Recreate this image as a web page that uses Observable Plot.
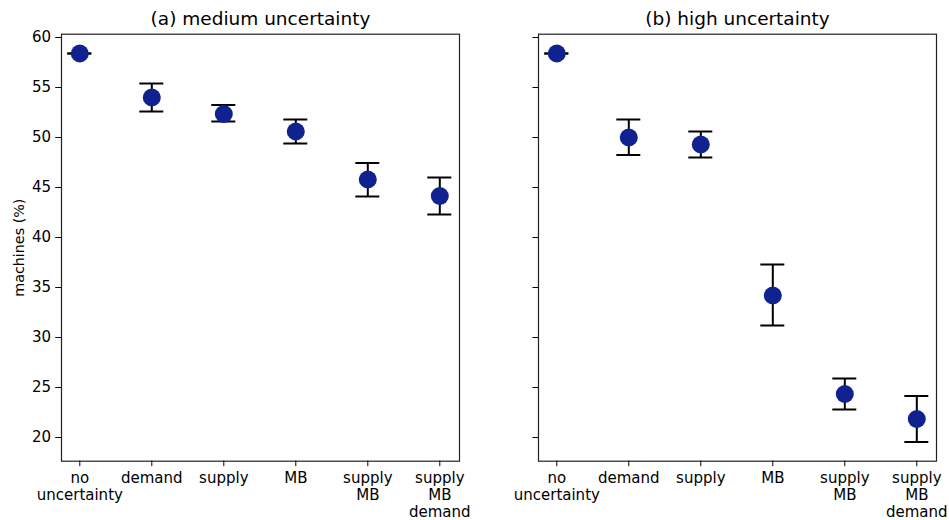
<!DOCTYPE html>
<html>
<head>
<meta charset="utf-8">
<script src="https://cdn.jsdelivr.net/npm/d3@7"></script>
<script src="https://cdn.jsdelivr.net/npm/@observablehq/plot@0.6"></script>
<style>
  html, body { margin: 0; padding: 0; background: white; }
  #chart { width: 949px; height: 520px; }
</style>
</head>
<body>
<div id="chart"></div>
<script>
const categories = ["no\nuncertainty", "demand", "supply", "MB", "supply\nMB", "supply\nMB\ndemand"];
const panels = ["(a) medium uncertainty", "(b) high uncertainty"];
const yTicks = [20, 25, 30, 35, 40, 45, 50, 55, 60];

const mediumMean = [58.4, 54.0, 52.35, 50.6, 45.8, 44.15];
const mediumLow  = [58.4, 52.6, 51.6, 49.4, 44.1, 42.3];
const mediumHigh = [58.4, 55.4, 53.25, 51.8, 47.45, 46.0];

const highMean = [58.4, 50.0, 49.3, 34.2, 24.35, 21.85];
const highLow  = [58.4, 48.25, 48.0, 31.2, 22.8, 19.55];
const highHigh = [58.4, 51.8, 50.6, 37.3, 25.9, 24.15];

const rows = [];
categories.forEach((c, i) => {
  rows.push({panel: panels[0], cat: c, mean: mediumMean[i], lo: mediumLow[i], hi: mediumHigh[i]});
});
categories.forEach((c, i) => {
  rows.push({panel: panels[1], cat: c, mean: highMean[i], lo: highLow[i], hi: highHigh[i]});
});
const titles = panels.map(p => ({panel: p}));

const font = "DejaVu Sans, sans-serif";

const chart = Plot.plot({
  width: 949,
  height: 520,
  marginLeft: 60.7,
  marginRight: 13,
  marginTop: 33.7,
  marginBottom: 59.3,
  style: {fontFamily: font, fontSize: "15px", color: "black", background: "white", overflow: "visible"},
  fx: {domain: panels, paddingInner: 0.1656, paddingOuter: 0, axis: null, label: null},
  x: {type: "band", domain: categories, paddingInner: 0.66, paddingOuter: 0.08, label: null},
  y: {domain: [17.63, 60.33], label: null},
  marks: [
    Plot.frame({stroke: "#222", strokeWidth: 1.2}),
    Plot.axisY({ticks: yTicks, tickSize: 5.5, tickPadding: 5, fontSize: 15, label: null}),
    Plot.axisY({ticks: [], label: "machines (%)", labelAnchor: "center", labelArrow: "none", labelOffset: 48, fontSize: 14.3}),
    Plot.axisY({ticks: yTicks, tickSize: 5.5, tickFormat: () => "", label: null, facetAnchor: null}),
    Plot.axisX({tickSize: 5.5, tickPadding: 4, fontSize: 15, lineHeight: 1.13, label: null}),
    Plot.ruleX(rows, {fx: "panel", x: "cat", y1: "lo", y2: "hi", stroke: "black", strokeWidth: 2}),
    Plot.tickY(rows, {fx: "panel", x: "cat", y: "lo", stroke: "black", strokeWidth: 2}),
    Plot.tickY(rows, {fx: "panel", x: "cat", y: "hi", stroke: "black", strokeWidth: 2}),
    Plot.dot(rows, {fx: "panel", x: "cat", y: "mean", r: 9, fill: "#0f2290", stroke: "none"}),
    Plot.text(titles, {fx: "panel", text: "panel", frameAnchor: "top", dy: -9, lineAnchor: "bottom", fontSize: 18.5, fill: "black"})
  ]
});
document.getElementById("chart").appendChild(chart);
</script>
</body>
</html>
